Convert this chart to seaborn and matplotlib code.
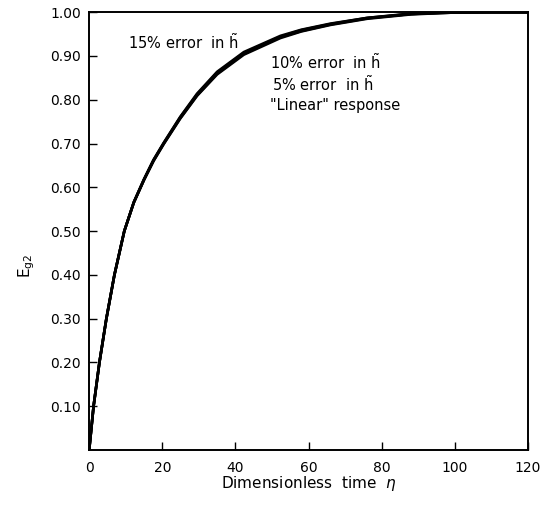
import pandas as pd
import matplotlib.pyplot as plt
import seaborn as sns

# values
eta = [0, 1.2, 2.8, 4.7, 6.9, 9.6, 12.2, 15.0, 17.6, 20.4, 24.9, 29.5, 35, 42.3, 52.3, 58, 66, 76, 88, 99, 110, 120]
linear = [0, 0.10, 0.20, 0.30, 0.40, 0.50, 0.565, 0.617, 0.660, 0.699, 0.757, 0.809, 0.858, 0.903, 0.941, 0.956, 0.971, 0.985, 0.995, 0.999, 1.0, 1.0]
err5 = [0, 0.10, 0.20, 0.30, 0.40, 0.50, 0.565, 0.617, 0.661, 0.700, 0.758, 0.810, 0.860, 0.905, 0.943, 0.957, 0.972, 0.986, 0.996, 0.999, 1.0, 1.0]
err10 = [0, 0.10, 0.20, 0.30, 0.40, 0.50, 0.566, 0.618, 0.662, 0.701, 0.760, 0.812, 0.862, 0.907, 0.944, 0.959, 0.973, 0.987, 0.996, 1.0, 1.0, 1.0]
err15 = [0, 0.10, 0.20, 0.30, 0.40, 0.50, 0.566, 0.619, 0.663, 0.702, 0.761, 0.814, 0.864, 0.909, 0.946, 0.960, 0.974, 0.987, 0.997, 1.0, 1.0, 1.0]
labels = ['15% error  in $\\tilde{\\mathrm{h}}$', '10% error  in $\\tilde{\\mathrm{h}}$',
          '5% error  in $\\tilde{\\mathrm{h}}$', '"Linear" response']

df = pd.DataFrame({'eta': eta * 4,
                   'E': err15 + err10 + err5 + linear,
                   'case': sum([[c] * len(eta) for c in ['15', '10', '5', 'lin']], [])})

sns.set_style('ticks')
plt.rcParams['text.color'] = 'black'
plt.rcParams['axes.labelcolor'] = 'black'
plt.rcParams['xtick.color'] = 'black'
plt.rcParams['ytick.color'] = 'black'
plt.rcParams['axes.edgecolor'] = 'black'

fig, ax = plt.subplots(figsize=(5.54, 5.09), dpi=100)
sns.lineplot(data=df, x='eta', y='E', units='case', estimator=None,
             color='black', linewidth=1.9, ax=ax, legend=False)

ax.set_xlim(0, 120)
ax.set_ylim(0, 1.0)
ax.set_xticks([0, 20, 40, 60, 80, 100, 120])
ax.set_yticks([0.1, 0.2, 0.3, 0.4, 0.5, 0.6, 0.7, 0.8, 0.9, 1.0])
ax.set_yticklabels(['0.10', '0.20', '0.30', '0.40', '0.50', '0.60', '0.70', '0.80', '0.90', '1.00'])
ax.tick_params(direction='in', length=6, width=1, labelsize=10)
ax.tick_params(axis='x', pad=8)
ax.tick_params(axis='y', pad=6)
for s in ax.spines.values():
    s.set_linewidth(1.4)
ax.set_xlabel('Dimensionless  time  $\\eta$', fontsize=11)
ax.set_ylabel('$\\mathrm{E}_{\\mathrm{g2}}$', fontsize=11)
ax.xaxis.set_label_coords(0.5, -0.055)
ax.yaxis.set_label_coords(-0.12, 0.42)

ax.text(10.7, 0.932, labels[0], fontsize=10.5, va='center')
ax.text(49.5, 0.886, labels[1], fontsize=10.5, va='center')
ax.text(49.9, 0.836, labels[2], fontsize=10.5, va='center')
ax.text(49.5, 0.786, labels[3], fontsize=10.5, va='center')

plt.subplots_adjust(left=0.161, right=0.953, top=0.976, bottom=0.116)
plt.savefig('out.png', dpi=100)
